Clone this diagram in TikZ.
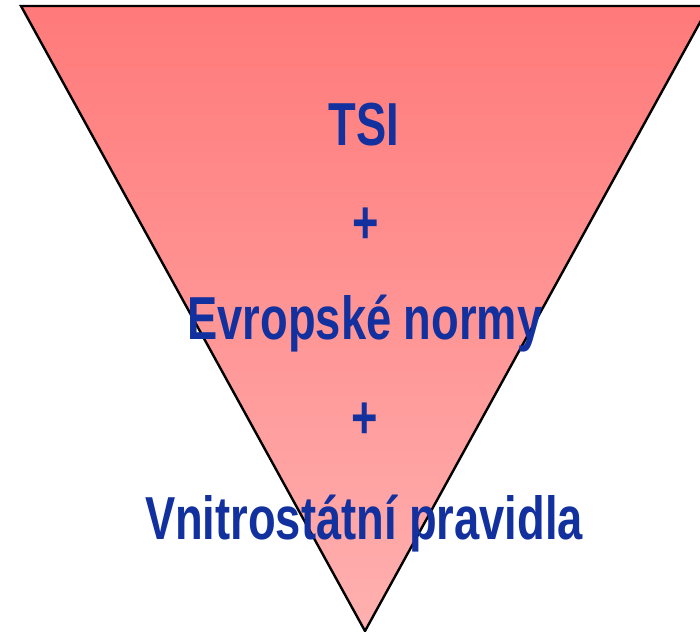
\documentclass[tikz,border=0pt]{standalone}
\usepackage{fontspec}
\setmainfont{Liberation Sans}
\usepackage{graphicx}
\definecolor{txtblue}{RGB}{18,48,158}
\definecolor{trtop}{RGB}{255,122,122}
\definecolor{trbot}{RGB}{255,176,176}
\tikzset{
  lbl/.style={anchor=base, inner sep=0pt, text=txtblue, font=\bfseries\fontsize{45.3}{50}\selectfont},
}
\newcommand{\tall}[1]{\scalebox{1}[1.34]{#1}}
\begin{document}
\begin{tikzpicture}[x=1pt,y=-1pt]
  \useasboundingbox (0,0) rectangle (700,631);
  \clip (0,0) rectangle (700,631);
  \fill[white] (0,0) rectangle (700,631);
  \coordinate (tl) at (21,6);
  \coordinate (tr) at (709,6);
  \coordinate (ap) at (365,631);
  \shade[top color=trtop, bottom color=trbot] (tl) -- (tr) -- (ap) -- cycle;
  \draw[line width=2.4pt, line join=miter] (tl) -- (tr) -- (ap) -- cycle;
  \node[lbl] (tsi) at (364,146) {\tall{TSI}};
  \node[lbl] (p1) at (366,243) {\tall{+}};
  \node[lbl] (en) at (365,339) {\tall{Evropské normy}};
  \node[lbl] (p2) at (365,438) {\tall{+}};
  \node[lbl] (vp) at (364,539) {\tall{Vnitrostátní pravidla}};
\end{tikzpicture}
\end{document}
